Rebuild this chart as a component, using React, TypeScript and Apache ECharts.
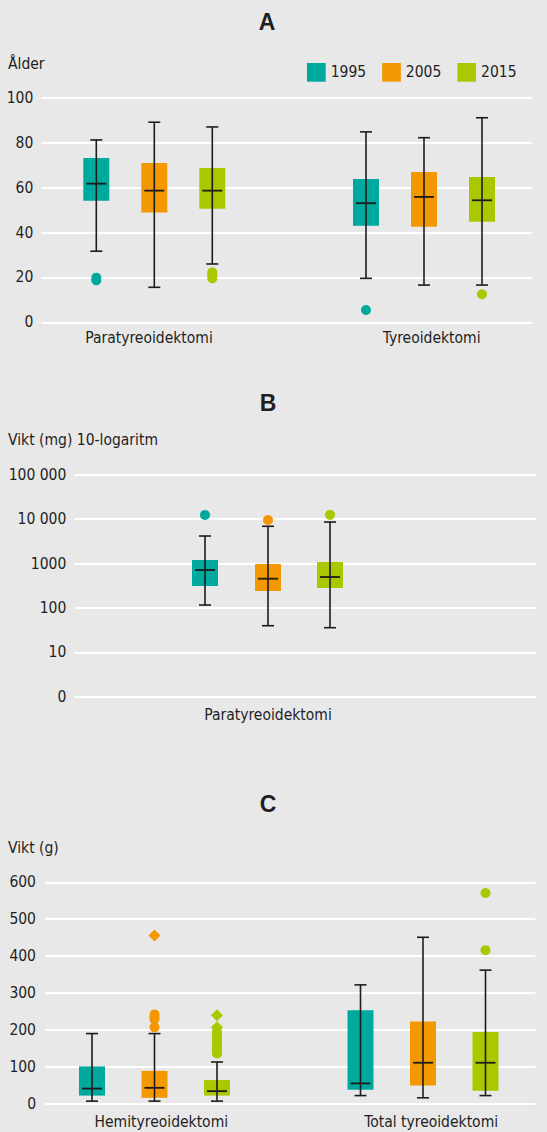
import React, { useEffect, useRef } from 'react';
import * as echarts from 'echarts';

// ---------- data ----------
const YEARS = ['1995', '2005', '2015'];
const COLORS = ['#00a99d', '#f39800', '#aac700'];

// box rows: [min, Q1, median, Q3, max]
const A_CATEGORIES = ['Paratyreoidektomi', 'Tyreoidektomi'];
const A_1995 = [[31.7, 54.2, 61.8, 73.3, 81.3], [19.6, 43.1, 53.1, 63.9, 84.9]];
const A_2005 = [[15.6, 48.9, 58.7, 71.0, 89.2], [16.6, 42.6, 55.9, 67.0, 82.3]];
const A_2015 = [[26.0, 50.6, 58.7, 68.8, 87.1], [16.6, 44.8, 54.4, 64.8, 91.2]];
// outliers: [categoryIndex, value]
const A_OUT_1995 = [[0, 18.7], [0, 19.9], [1, 5.5]];
const A_OUT_2005: number[][] = [];
const A_OUT_2015 = [[0, 19.6], [0, 21.0], [0, 22.3], [1, 12.5]];
const A_TICKS = [0, 20, 40, 60, 80, 100];

const B_CATEGORIES = ['Paratyreoidektomi'];
const B_1995 = [[116, 311, 714, 1200, 4160]];
const B_2005 = [[39.7, 240, 455, 975, 6890]];
const B_2015 = [[35.8, 281, 496, 1080, 8600]];
const B_OUT_1995 = [[0, 12400]];
const B_OUT_2005 = [[0, 9550]];
const B_OUT_2015 = [[0, 12500]];
const B_TICK_LABELS = ['0', '10', '100', '1000', '10 000', '100 000'];

const C_CATEGORIES = ['Hemityreoidektomi', 'Total tyreoidektomi'];
const C_1995 = [[7, 22, 41, 101, 190], [22, 38, 55, 253, 322]];
const C_2005 = [[7, 16, 43, 89, 190], [16, 49, 111, 223, 451]];
const C_2015 = [[7, 22, 34, 64, 113], [22, 35, 111, 194, 362]];
const C_OUT_1995: number[][] = [];
const C_OUT_2005 = [[0, 207], [0, 229], [0, 236], [0, 242]];
const C_OUT_2005_DIAMOND = [[0, 456]];
const C_OUT_2015 = [[0, 136], [0, 142], [0, 150], [0, 157], [0, 166], [0, 172], [0, 181], [0, 188], [0, 196], [1, 416], [1, 571]];
const C_OUT_2015_DIAMOND = [[0, 207], [0, 240]];
const C_TICKS = [0, 100, 200, 300, 400, 500, 600];

// ---------- styling / layout ----------
const W = 547;
const H = 1132;
const BG = '#e8e8e8';
const TEXT = '#1f1f1f';
const WHISKER = '#1c1c1c';
const FONT = "'DejaVu Sans Condensed', 'Liberation Sans Narrow', 'DejaVu Sans', sans-serif";
const TITLE_FONT = "'Liberation Sans', Arial, sans-serif";
const FS = 15.5;
const BOX_W = 26;
const CAP_W = 12;
const MED_W = 20;

function boxSeries(name: string, color: string, rows: number[][], axisIdx: number, offset: number) {
  return {
    type: 'custom',
    name,
    xAxisIndex: axisIdx,
    yAxisIndex: axisIdx,
    itemStyle: { color },
    encode: { x: 0, y: [1, 2, 3, 4, 5] },
    data: rows.map((r, i) => [i, ...r]),
    renderItem: (params: any, api: any) => {
      const c = api.value(0);
      const pt = (v: number) => api.coord([c, v]);
      const x = pt(api.value(3))[0] + offset;
      const yLo = pt(api.value(1))[1];
      const yQ1 = pt(api.value(2))[1];
      const yMed = pt(api.value(3))[1];
      const yQ3 = pt(api.value(4))[1];
      const yHi = pt(api.value(5))[1];
      const ls = { stroke: WHISKER, lineWidth: 1.6 };
      return {
        type: 'group',
        children: [
          { type: 'rect', shape: { x: x - BOX_W / 2, y: yQ3, width: BOX_W, height: yQ1 - yQ3 }, style: { fill: color } },
          { type: 'line', shape: { x1: x, y1: yHi, x2: x, y2: yLo }, style: ls },
          { type: 'line', shape: { x1: x - CAP_W / 2, y1: yHi, x2: x + CAP_W / 2, y2: yHi }, style: ls },
          { type: 'line', shape: { x1: x - CAP_W / 2, y1: yLo, x2: x + CAP_W / 2, y2: yLo }, style: ls },
          { type: 'line', shape: { x1: x - MED_W / 2, y1: yMed, x2: x + MED_W / 2, y2: yMed }, style: { stroke: WHISKER, lineWidth: 1.8 } },
        ],
      };
    },
  };
}

function outlierSeries(name: string, color: string, pts: number[][], axisIdx: number, offset: number, symbol = 'circle', size = 10) {
  return {
    type: 'scatter',
    name,
    xAxisIndex: axisIdx,
    yAxisIndex: axisIdx,
    symbol,
    symbolSize: size,
    symbolOffset: [offset, 0],
    itemStyle: { color, opacity: 1 },
    data: pts,
    z: 3,
  };
}

function grid(left: number, right: number, top: number, bottom: number) {
  return { left, right, top, bottom, containLabel: false, outerBoundsMode: 'none' };
}

const axisLabelStyle = { color: TEXT, fontSize: FS, fontFamily: FONT };
const splitLine = { show: true, lineStyle: { color: '#ffffff', width: 2 } };

export default function App() {
  const ref = useRef<HTMLDivElement>(null);

  useEffect(() => {
    document.body.style.margin = '0';
    document.body.style.background = BG;
    if (!ref.current) return;
    const chart = echarts.init(ref.current, undefined, { renderer: 'svg' });

    const A_OFF = [-58, 0, 58];
    const B_OFF = [-63, 0, 62];
    const C_OFF = [-62.5, 0, 62.5];

    // grids: 0 A bg, 1 A boxes, 2 A labels, 3 B bg, 4 B boxes+labels, 5 C bg, 6 C boxes, 7 C labels
    const grids = [
      grid(41.3, 15, 98, H - 322.3),
      grid(154.3, 123, 98, H - 322.3),
      grid(149, 115.3, 98, H - 322.3),
      grid(74.3, 10.5, 474.7, H - 696.7),
      grid(168, 179, 474.7, H - 696.7),
      grid(45, 11.7, 882.3, H - 1103.7),
      grid(154.5, 124, 882.3, H - 1103.7),
      grid(161.3, 115.8, 882.3, H - 1103.7),
    ];

    const hiddenValX = (g: number) => ({ type: 'value', gridIndex: g, show: false, min: 0, max: 1 });
    const hiddenCatX = (g: number, cats: string[], boundaryGap: boolean) => ({
      type: 'category', gridIndex: g, data: cats, boundaryGap, show: false,
    });
    const labelCatX = (g: number, cats: string[], boundaryGap: boolean, margin: number) => ({
      type: 'category', gridIndex: g, data: cats, boundaryGap,
      axisLine: { show: false }, axisTick: { show: false }, splitLine: { show: false },
      axisLabel: { ...axisLabelStyle, margin, interval: 0 },
    });

    const xAxes = [
      hiddenValX(0),
      hiddenCatX(1, A_CATEGORIES, false),
      labelCatX(2, A_CATEGORIES, false, 7.5),
      hiddenValX(3),
      labelCatX(4, B_CATEGORIES, true, 10),
      hiddenValX(5),
      hiddenCatX(6, C_CATEGORIES, false),
      labelCatX(7, C_CATEGORIES, false, 10),
    ];

    const yA = { type: 'value', min: A_TICKS[0], max: A_TICKS[A_TICKS.length - 1], interval: A_TICKS[1] - A_TICKS[0] };
    const yB = { type: 'log', logBase: 10, min: 1, max: 100000 };
    const yC = { type: 'value', min: C_TICKS[0], max: C_TICKS[C_TICKS.length - 1], interval: C_TICKS[1] - C_TICKS[0] };
    const shownY = (g: number, base: any, margin: number, formatter?: any) => ({
      ...base, gridIndex: g,
      axisLine: { show: false }, axisTick: { show: false }, splitLine,
      axisLabel: { ...axisLabelStyle, margin, ...(formatter ? { formatter } : {}) },
    });
    const hiddenY = (g: number, base: any) => ({ ...base, gridIndex: g, show: false, splitLine: { show: false } });

    const yAxes = [
      shownY(0, yA, 8),
      hiddenY(1, yA),
      hiddenY(2, yA),
      shownY(3, yB, 8, (v: number) => B_TICK_LABELS[Math.round(Math.log10(v))]),
      hiddenY(4, yB),
      shownY(5, yC, 9),
      hiddenY(6, yC),
      hiddenY(7, yC),
    ];

    const A_ROWS = [A_1995, A_2005, A_2015];
    const A_OUTS = [A_OUT_1995, A_OUT_2005, A_OUT_2015];
    const B_ROWS = [B_1995, B_2005, B_2015];
    const B_OUTS = [B_OUT_1995, B_OUT_2005, B_OUT_2015];
    const C_ROWS = [C_1995, C_2005, C_2015];
    const C_OUTS = [C_OUT_1995, C_OUT_2005, C_OUT_2015];
    const C_DIAMONDS = [[], C_OUT_2005_DIAMOND, C_OUT_2015_DIAMOND];

    const series: any[] = [];
    YEARS.forEach((y, i) => {
      series.push(boxSeries(y, COLORS[i], A_ROWS[i], 1, A_OFF[i]));
      series.push(outlierSeries(y, COLORS[i], A_OUTS[i], 1, A_OFF[i]));
      series.push(boxSeries(y, COLORS[i], B_ROWS[i], 4, B_OFF[i]));
      series.push(outlierSeries(y, COLORS[i], B_OUTS[i], 4, B_OFF[i]));
      series.push(boxSeries(y, COLORS[i], C_ROWS[i], 6, C_OFF[i]));
      series.push(outlierSeries(y, COLORS[i], C_OUTS[i], 6, C_OFF[i]));
      series.push(outlierSeries(y, COLORS[i], C_DIAMONDS[i], 6, C_OFF[i], 'diamond', 12));
    });

    const txt = (text: string, x: number, y: number, opts: any = {}) => ({
      type: 'text', x, y, silent: true,
      style: {
        text, fill: TEXT, fontSize: FS, fontFamily: FONT,
        align: 'left', verticalAlign: 'middle', ...opts,
      },
    });

    chart.setOption({
      animation: false,
      backgroundColor: BG,
      grid: grids,
      xAxis: xAxes,
      yAxis: yAxes,
      legend: {
        left: 307, top: 63, width: 235, padding: 0,
        itemWidth: 18.7, itemHeight: 18.7, itemGap: 16,
        icon: 'rect', selectedMode: false,
        textStyle: { color: TEXT, fontSize: FS, fontFamily: FONT },
        data: YEARS.map((y, i) => ({ name: y, itemStyle: { color: COLORS[i] } })),
      },
      graphic: [
        txt('A', 267, 22, { align: 'center', fontSize: 23, fontWeight: 'bold', fontFamily: TITLE_FONT }),
        txt('B', 268, 403, { align: 'center', fontSize: 23, fontWeight: 'bold', fontFamily: TITLE_FONT }),
        txt('C', 268, 804, { align: 'center', fontSize: 23, fontWeight: 'bold', fontFamily: TITLE_FONT }),
        txt('Ålder', 8, 64),
        txt('Vikt (mg) 10-logaritm', 8, 440),
        txt('Vikt (g)', 8, 848),
      ],
      series,
    });

    return () => chart.dispose();
  }, []);

  return <div ref={ref} style={{ width: W, height: H }} />;
}
